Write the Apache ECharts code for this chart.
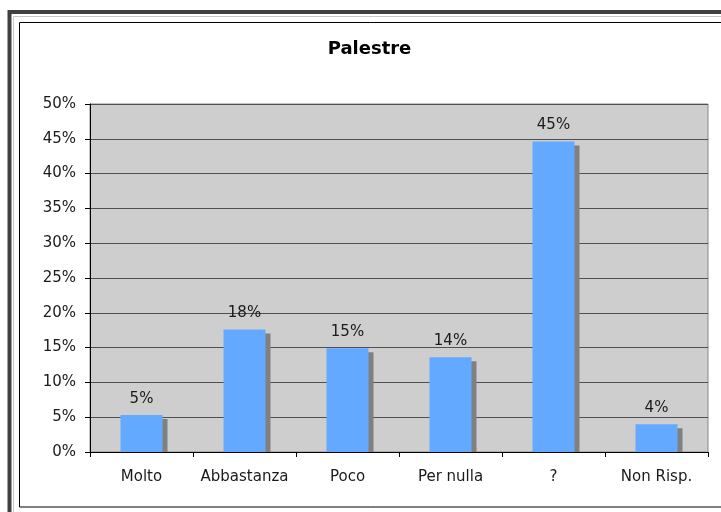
<!DOCTYPE html>
<html>
<head>
<meta charset="utf-8">
<script src="https://cdn.jsdelivr.net/npm/echarts@6/dist/echarts.min.js"></script>
<style>
  html, body { margin: 0; padding: 0; background: #fff; }
  #chart { width: 721px; height: 512px; }
</style>
</head>
<body>
<div id="chart"></div>
<script>
// dati
var categorie = ['Molto', 'Abbastanza', 'Poco', 'Per nulla', '?', 'Non Risp.'];
var valori = [5.3, 17.6, 14.9, 13.6, 44.6, 4.0];

var myChart = echarts.init(document.getElementById('chart'));
var font = 'DejaVu Sans';

var option = {
  backgroundColor: '#ffffff',
  animation: false,
  graphic: [
    // cornice esterna scura
    { type: 'rect', shape: { x: 9.5, y: 12, width: 740, height: 540 },
      style: { fill: 'none', stroke: '#404040', lineWidth: 4 }, z: 10 },
    { type: 'rect', shape: { x: 13.5, y: 16.5, width: 740, height: 540 },
      style: { fill: 'none', stroke: '#c8c8c8', lineWidth: 1 }, z: 10 },
    { type: 'rect', shape: { x: 19.5, y: 22.5, width: 740, height: 484.5 },
      style: { fill: 'none', stroke: '#000000', lineWidth: 1 }, z: 10 },
    { type: 'text', x: 369.5, y: 49,
      style: { text: 'Palestre', fontFamily: font, fontWeight: 'bold', fontSize: 18,
               fill: '#000', textAlign: 'center', textVerticalAlign: 'middle' }, z: 10 }
  ],
  grid: {
    left: 90, top: 104, right: 13, bottom: 60,
    show: true,
    backgroundColor: '#cecece',
    borderColor: '#888888',
    borderWidth: 1
  },
  xAxis: {
    type: 'category',
    data: categorie,
    axisLine: { show: true, lineStyle: { color: '#000', width: 1 } },
    axisTick: { show: true, length: 5, lineStyle: { color: '#000' } },
    axisLabel: { color: '#1a1a1a', fontFamily: font, fontSize: 15, margin: 18, interval: 0 }
  },
  yAxis: {
    type: 'value',
    min: 0, max: 50, interval: 5,
    axisLine: { show: true, lineStyle: { color: '#000', width: 1 } },
    axisTick: { show: true, length: 5, lineStyle: { color: '#000' } },
    axisLabel: { color: '#1a1a1a', fontFamily: font, fontSize: 15, margin: 14, formatter: '{value}%' },
    splitLine: { show: true, lineStyle: { color: '#505050', width: 1 } }
  },
  series: [{
    type: 'custom',
    data: valori.map(function (v, i) { return [i, v]; }),
    renderItem: function (params, api) {
      var v = api.value(1);
      var top = api.coord([api.value(0), v]);
      var base = api.coord([api.value(0), 0]);
      var w = 42;
      var x = top[0] - w / 2;
      return {
        type: 'group',
        children: [
          { type: 'rect',
            shape: { x: x + 5, y: top[1] + 4, width: w, height: base[1] - top[1] - 4 },
            style: { fill: '#808080' } },
          { type: 'rect',
            shape: { x: x, y: top[1], width: w, height: base[1] - top[1] },
            style: { fill: '#63a9ff' } },
          { type: 'text', x: top[0], y: top[1] - 9,
            style: { text: Math.round(v) + '%', fontFamily: font, fontSize: 15, fill: '#1a1a1a',
                     textAlign: 'center', textVerticalAlign: 'bottom' } }
        ]
      };
    }
  }]
};

myChart.setOption(option);
</script>
</body>
</html>
